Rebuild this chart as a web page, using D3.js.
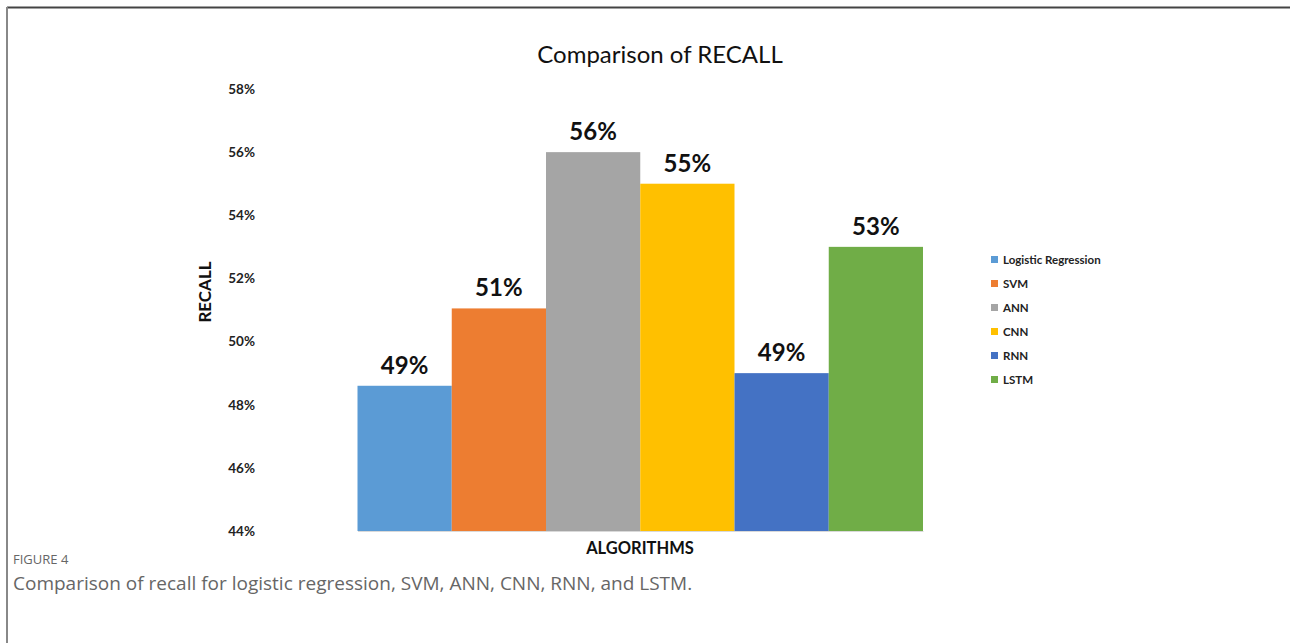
<!DOCTYPE html>
<html>
<head>
<meta charset="utf-8">
<script src="https://cdn.jsdelivr.net/npm/d3@7"></script>
<style>
  html, body { margin: 0; padding: 0; background: #fff; }
  svg { display: block; }
</style>
</head>
<body>
<div id="chart"></div>
<script>
// values (percent)
const algorithms = ['Logistic Regression', 'SVM', 'ANN', 'CNN', 'RNN', 'LSTM'];
const recall = [48.6, 51.05, 56.0, 55.0, 49.0, 53.0];
const colors = ['#5B9BD5', '#ED7D31', '#A5A5A5', '#FFC000', '#4472C4', '#70AD47'];
const yTicks = [44, 46, 48, 50, 52, 54, 56, 58];

const width = 1290, height = 643;
const chartFont = 'Lato, "Open Sans", sans-serif';

const svg = d3.select('#chart').append('svg')
    .attr('width', width)
    .attr('height', height);

// page frame (top + left rules)
svg.append('line')
    .attr('x1', 7).attr('x2', width).attr('y1', 7.5).attr('y2', 7.5)
    .attr('stroke', '#444').attr('stroke-width', 2);
svg.append('line')
    .attr('x1', 7).attr('x2', 7).attr('y1', 7).attr('y2', height)
    .attr('stroke', '#888').attr('stroke-width', 2);

const x = d3.scaleBand()
    .domain(algorithms)
    .range([357.5, 923])
    .padding(0);

const y = d3.scaleLinear()
    .domain([44, 58])
    .range([531, 89]);

// title
svg.append('text')
    .attr('x', 660).attr('y', 63)
    .attr('text-anchor', 'middle')
    .style('font-family', chartFont)
    .style('font-size', '24px')
    .style('fill', '#111')
    .text('Comparison of RECALL');

// y axis: labels only
const yAxis = svg.append('g')
    .attr('transform', 'translate(257,0)')
    .call(d3.axisLeft(y).tickValues(yTicks).tickSize(0).tickPadding(2)
        .tickFormat(d => d + '%'));
yAxis.select('.domain').remove();
yAxis.selectAll('text')
    .style('font-family', chartFont)
    .style('font-weight', 'bold')
    .style('font-size', '13.5px')
    .style('fill', '#222');

svg.append('text')
    .attr('transform', 'translate(211,292) rotate(-90)')
    .attr('text-anchor', 'middle')
    .style('font-family', chartFont)
    .style('font-weight', 'bold')
    .style('font-size', '17px')
    .style('fill', '#111')
    .text('RECALL');

// bars
svg.selectAll('rect.bar')
    .data(algorithms)
    .enter().append('rect')
    .attr('class', 'bar')
    .attr('x', d => x(d))
    .attr('width', x.bandwidth())
    .attr('y', (d, i) => y(recall[i]))
    .attr('height', (d, i) => y(44) - y(recall[i]))
    .attr('fill', (d, i) => colors[i]);

// baseline
const xAxis = svg.append('g')
    .attr('transform', `translate(0,${y(44)})`)
    .call(d3.axisBottom(x).tickSize(0).tickSizeOuter(0).tickFormat(''));
xAxis.select('.domain').attr('stroke', '#d9d9d9');

// value labels
svg.selectAll('text.value')
    .data(algorithms)
    .enter().append('text')
    .attr('class', 'value')
    .attr('x', d => x(d) + x.bandwidth() / 2)
    .attr('y', (d, i) => y(recall[i]) - 12)
    .attr('text-anchor', 'middle')
    .style('font-family', chartFont)
    .style('font-weight', 'bold')
    .style('font-size', '24px')
    .style('fill', '#111')
    .text((d, i) => d3.format('.0f')(recall[i]) + '%');

svg.append('text')
    .attr('x', 640).attr('y', 554)
    .attr('text-anchor', 'middle')
    .style('font-family', chartFont)
    .style('font-weight', 'bold')
    .style('font-size', '16.5px')
    .style('fill', '#111')
    .text('ALGORITHMS');

// legend
const legend = svg.selectAll('g.legend')
    .data(algorithms)
    .enter().append('g')
    .attr('class', 'legend')
    .attr('transform', (d, i) => `translate(991,${260 + i * 24})`);
legend.append('rect')
    .attr('x', 0).attr('y', -4)
    .attr('width', 7).attr('height', 7)
    .attr('fill', (d, i) => colors[i]);
legend.append('text')
    .attr('x', 12).attr('y', 4)
    .style('font-family', chartFont)
    .style('font-weight', 'bold')
    .style('font-size', '11.5px')
    .style('fill', '#222')
    .text(d => d);

// figure caption
svg.append('text')
    .attr('x', 13).attr('y', 564)
    .style('font-family', '"Open Sans", sans-serif')
    .style('font-size', '13px')
    .style('fill', '#666')
    .text('FIGURE 4');
svg.append('text')
    .attr('x', 13).attr('y', 590)
    .style('font-family', '"Open Sans", sans-serif')
    .style('font-size', '19px')
    .style('fill', '#666')
    .text('Comparison of recall for logistic regression, SVM, ANN, CNN, RNN, and LSTM.');
</script>
</body>
</html>
